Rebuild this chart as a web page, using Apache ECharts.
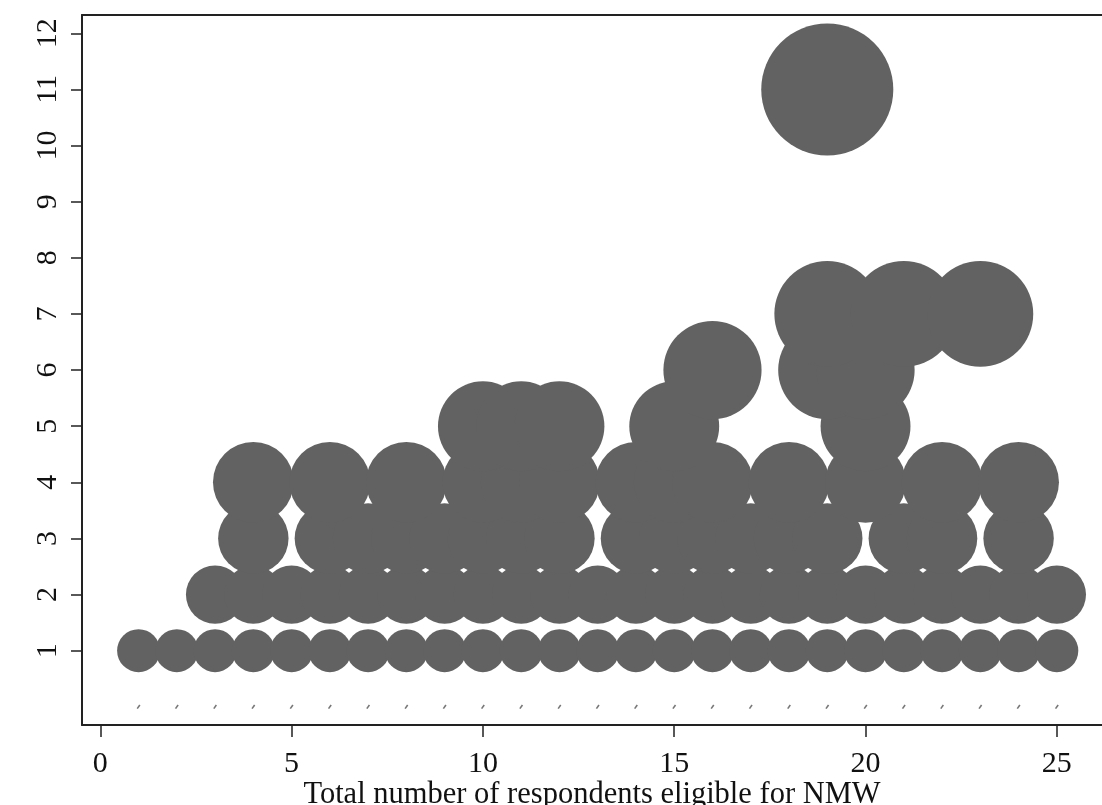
<!DOCTYPE html>
<html>
<head>
<meta charset="utf-8">
<script src="https://cdn.jsdelivr.net/npm/echarts@6/dist/echarts.min.js"></script>
<style>
html,body{margin:0;padding:0;background:#fff;}
#chart{width:1102px;height:805px;}
</style>
</head>
<body>
<div id="chart"></div>
<script>
// x positions (total eligible respondents) present at each y level
const level0 = [1,2,3,4,5,6,7,8,9,10,11,12,13,14,15,16,17,18,19,20,21,22,23,24,25];
const level1 = [1,2,3,4,5,6,7,8,9,10,11,12,13,14,15,16,17,18,19,20,21,22,23,24,25];
const level2 = [3,4,5,6,7,8,9,10,11,12,13,14,15,16,17,18,19,20,21,22,23,24,25];
const level3 = [4,6,7,8,9,10,11,12,14,15,16,17,18,19,21,22,24];
const level4 = [4,6,8,10,11,12,14,15,16,18,20,22,24];
const level5 = [10,11,12,15,20];
const level6 = [16,19,20];
const level7 = [19,21,23];
const level11 = [19];

const xTicks = [0,5,10,15,20,25];
const yTicks = [1,2,3,4,5,6,7,8,9,10,11,12];
const xTitle = 'Total number of respondents eligible for NMW';

const levels = [[1,level1],[2,level2],[3,level3],[4,level4],[5,level5],[6,level6],[7,level7],[11,level11]];
const bubbleData = [];
levels.forEach(([y, xs]) => xs.forEach(x => bubbleData.push([x, y])));
const zeroData = level0.map(x => [x, 0]);

const FONT = 'Liberation Serif';
const AXIS_COLOR = '#222';

const chart = echarts.init(document.getElementById('chart'));
chart.setOption({
  animation: false,
  backgroundColor: '#fff',
  grid: { left: 82, top: 15, right: 0, bottom: 80, containLabel: false, outerBoundsMode: 'none' },
  xAxis: [{
    type: 'value',
    min: -0.478,
    max: 26.18,
    position: 'bottom',
    name: xTitle,
    nameLocation: 'middle',
    nameGap: 54,
    nameMoveOverlap: false,
    nameTextStyle: { fontFamily: FONT, fontSize: 30.5, color: '#111' },
    axisLine: { show: true, onZero: false, lineStyle: { color: AXIS_COLOR, width: 2 } },
    axisTick: { show: true, inside: false, length: 12, customValues: xTicks, lineStyle: { color: AXIS_COLOR, width: 1.5 } },
    axisLabel: { show: true, customValues: xTicks, margin: 24, fontFamily: FONT, fontSize: 30, color: '#111' },
    splitLine: { show: false }
  }, {
    type: 'value',
    min: -0.478,
    max: 26.18,
    position: 'top',
    axisLine: { show: true, onZero: false, lineStyle: { color: AXIS_COLOR, width: 2 } },
    axisTick: { show: false },
    axisLabel: { show: false },
    splitLine: { show: false }
  }],
  yAxis: {
    type: 'value',
    min: -0.324,
    max: 12.326,
    axisLine: { show: true, onZero: false, lineStyle: { color: AXIS_COLOR, width: 2 } },
    axisTick: { show: true, inside: false, length: 11, customValues: yTicks, lineStyle: { color: AXIS_COLOR, width: 1.5 } },
    axisLabel: { show: true, customValues: yTicks, rotate: 90, margin: 19, fontFamily: FONT, fontSize: 30, color: '#111' },
    splitLine: { show: false }
  },
  series: [{
    type: 'scatter',
    xAxisIndex: 0,
    data: bubbleData,
    symbol: 'circle',
    symbolSize: v => 2 * Math.sqrt(390 * v[1] + 70),
    itemStyle: { color: '#626262', opacity: 1 },
    silent: true
  }, {
    type: 'scatter',
    xAxisIndex: 0,
    data: zeroData,
    symbol: 'rect',
    symbolSize: [1.6, 4.5],
    symbolRotate: -35,
    itemStyle: { color: '#555' },
    silent: true
  }]
});
</script>
</body>
</html>
